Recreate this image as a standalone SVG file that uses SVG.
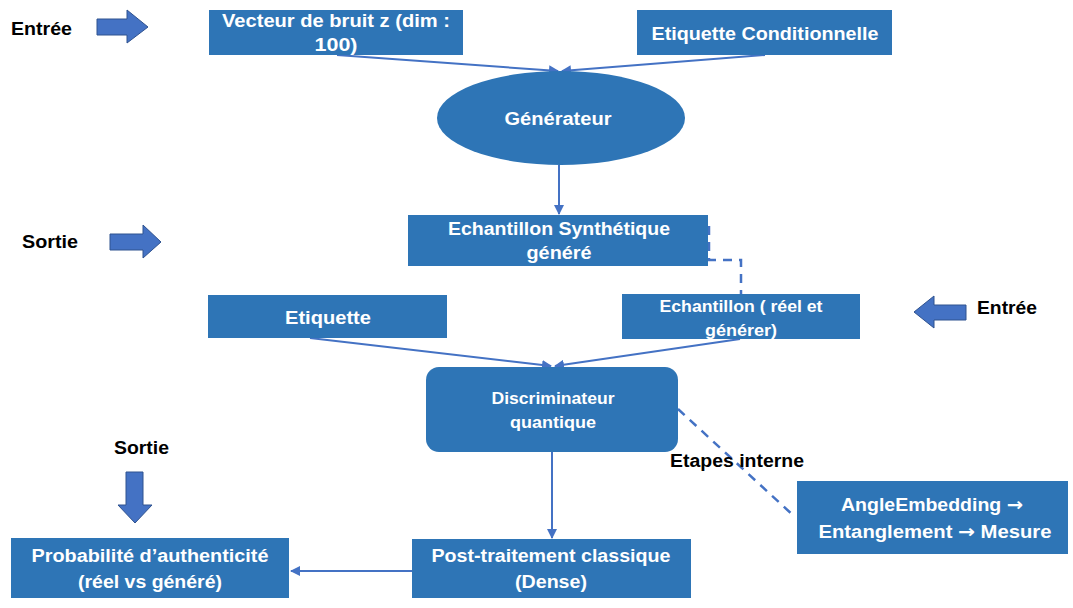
<svg xmlns="http://www.w3.org/2000/svg" width="1073" height="608" viewBox="0 0 1073 608">
<style>
.box{fill:#2E75B6;}
.bt{font-family:"Liberation Sans",Arial,sans-serif;font-weight:bold;font-size:18px;fill:#fff;text-anchor:middle;}
.lb{font-family:"Liberation Sans",Arial,sans-serif;font-weight:bold;font-size:18px;fill:#000;}
.ar{font-family:"DejaVu Sans",sans-serif;font-weight:bold;}
.con{stroke:#4472C4;stroke-width:2;fill:none;}
.dash{stroke:#4472C4;stroke-width:2.5;fill:none;stroke-dasharray:9,7;}
.barrow{fill:#4472C4;stroke:#2F528F;stroke-width:1;}
</style>
<defs>
<marker id="ah" viewBox="0 0 10 10" refX="9" refY="5" markerWidth="5" markerHeight="5" orient="auto-start-reverse">
<path d="M0,0 L10,5 L0,10 z" fill="#4472C4"/>
</marker>
</defs>

<g id="connectors">
<line class="con" x1="337" y1="55" x2="558" y2="71" marker-end="url(#ah)"/>
<line class="con" x1="765" y1="55" x2="562" y2="71" marker-end="url(#ah)"/>
<line class="con" x1="559" y1="165" x2="559" y2="214" marker-end="url(#ah)"/>
<path class="dash" d="M709,226 V260 H741 V294"/>
<line class="con" x1="310" y1="338" x2="551" y2="366" marker-end="url(#ah)"/>
<line class="con" x1="740" y1="339" x2="555" y2="366" marker-end="url(#ah)"/>
<line class="con" x1="552" y1="452" x2="552" y2="538" marker-end="url(#ah)"/>
<line class="con" x1="412" y1="571" x2="291" y2="571" marker-end="url(#ah)"/>
<line class="dash" x1="678" y1="409" x2="795" y2="517"/>
</g>

<g id="label-entree-top">
<text class="lb" x="11" y="35" textLength="61" lengthAdjust="spacingAndGlyphs">Entrée</text>
<path class="barrow" d="M97,19 H127 V10 L148,27 L127,43 V35 H97 z"/>
</g>

<g id="node-vecteur">
<rect class="box" x="209" y="10" width="254" height="45"/>
<text class="bt" x="336" y="27" textLength="228" lengthAdjust="spacingAndGlyphs">Vecteur de bruit z (dim :</text>
<text class="bt" x="336" y="51" textLength="43" lengthAdjust="spacingAndGlyphs">100)</text>
</g>

<g id="node-etiquette-cond">
<rect class="box" x="637" y="10" width="255" height="45"/>
<text class="bt" x="765" y="40" textLength="227" lengthAdjust="spacingAndGlyphs">Etiquette Conditionnelle</text>
</g>

<g id="node-generateur">
<ellipse class="box" cx="561" cy="118" rx="124" ry="47"/>
<text class="bt" x="558" y="125" textLength="107" lengthAdjust="spacingAndGlyphs">Générateur</text>
</g>

<g id="label-sortie-mid">
<text class="lb" x="22" y="248" textLength="56" lengthAdjust="spacingAndGlyphs">Sortie</text>
<path class="barrow" d="M110,234 H143 V225 L161,242 L143,258 V250 H110 z"/>
</g>

<g id="node-echantillon-synth">
<rect class="box" x="408" y="215" width="300" height="51"/>
<text class="bt" x="559" y="235" textLength="222" lengthAdjust="spacingAndGlyphs">Echantillon Synthétique</text>
<text class="bt" x="559" y="259" textLength="65" lengthAdjust="spacingAndGlyphs">généré</text>
</g>

<g id="node-etiquette">
<rect class="box" x="208" y="295" width="239" height="43"/>
<text class="bt" x="328" y="324" textLength="86" lengthAdjust="spacingAndGlyphs">Etiquette</text>
</g>

<g id="node-echantillon">
<rect class="box" x="622" y="294" width="238" height="45"/>
<text class="bt" x="741" y="312" style="font-size:16px" textLength="163" lengthAdjust="spacingAndGlyphs">Echantillon ( réel et</text>
<text class="bt" x="741" y="336" style="font-size:16px" textLength="72" lengthAdjust="spacingAndGlyphs">générer)</text>
</g>

<g id="label-entree-right">
<path class="barrow" d="M966,305 H934 V296 L914,312 L934,328 V320 H966 z"/>
<text class="lb" x="977" y="314" textLength="60" lengthAdjust="spacingAndGlyphs">Entrée</text>
</g>

<g id="node-discriminateur">
<rect class="box" x="426" y="367" width="252" height="85" rx="13"/>
<text class="bt" x="553" y="404" style="font-size:16px" textLength="123" lengthAdjust="spacingAndGlyphs">Discriminateur</text>
<text class="bt" x="553" y="428" style="font-size:16px" textLength="86" lengthAdjust="spacingAndGlyphs">quantique</text>
</g>

<text class="lb" x="670" y="467" textLength="134" lengthAdjust="spacingAndGlyphs">Etapes interne</text>

<g id="label-sortie-bottom">
<text class="lb" x="114" y="454" textLength="55" lengthAdjust="spacingAndGlyphs">Sortie</text>
<path class="barrow" d="M126,472 H143 V505 H152 L135,523 L118,505 H126 z"/>
</g>

<g id="node-angle">
<rect class="box" x="797" y="481" width="271" height="73"/>
<text class="bt" x="932" y="511" textLength="182" lengthAdjust="spacingAndGlyphs">AngleEmbedding <tspan class="ar">→</tspan></text>
<text class="bt" x="935" y="538" textLength="233" lengthAdjust="spacingAndGlyphs">Entanglement <tspan class="ar">→</tspan> Mesure</text>
</g>

<g id="node-post">
<rect class="box" x="412" y="539" width="279" height="59"/>
<text class="bt" x="551" y="562" textLength="239" lengthAdjust="spacingAndGlyphs">Post-traitement classique</text>
<text class="bt" x="551" y="588" textLength="72" lengthAdjust="spacingAndGlyphs">(Dense)</text>
</g>

<g id="node-proba">
<rect class="box" x="11" y="538" width="278" height="60"/>
<text class="bt" x="150" y="562" textLength="237" lengthAdjust="spacingAndGlyphs">Probabilité d’authenticité</text>
<text class="bt" x="150" y="588" textLength="144" lengthAdjust="spacingAndGlyphs">(réel vs généré)</text>
</g>
</svg>
